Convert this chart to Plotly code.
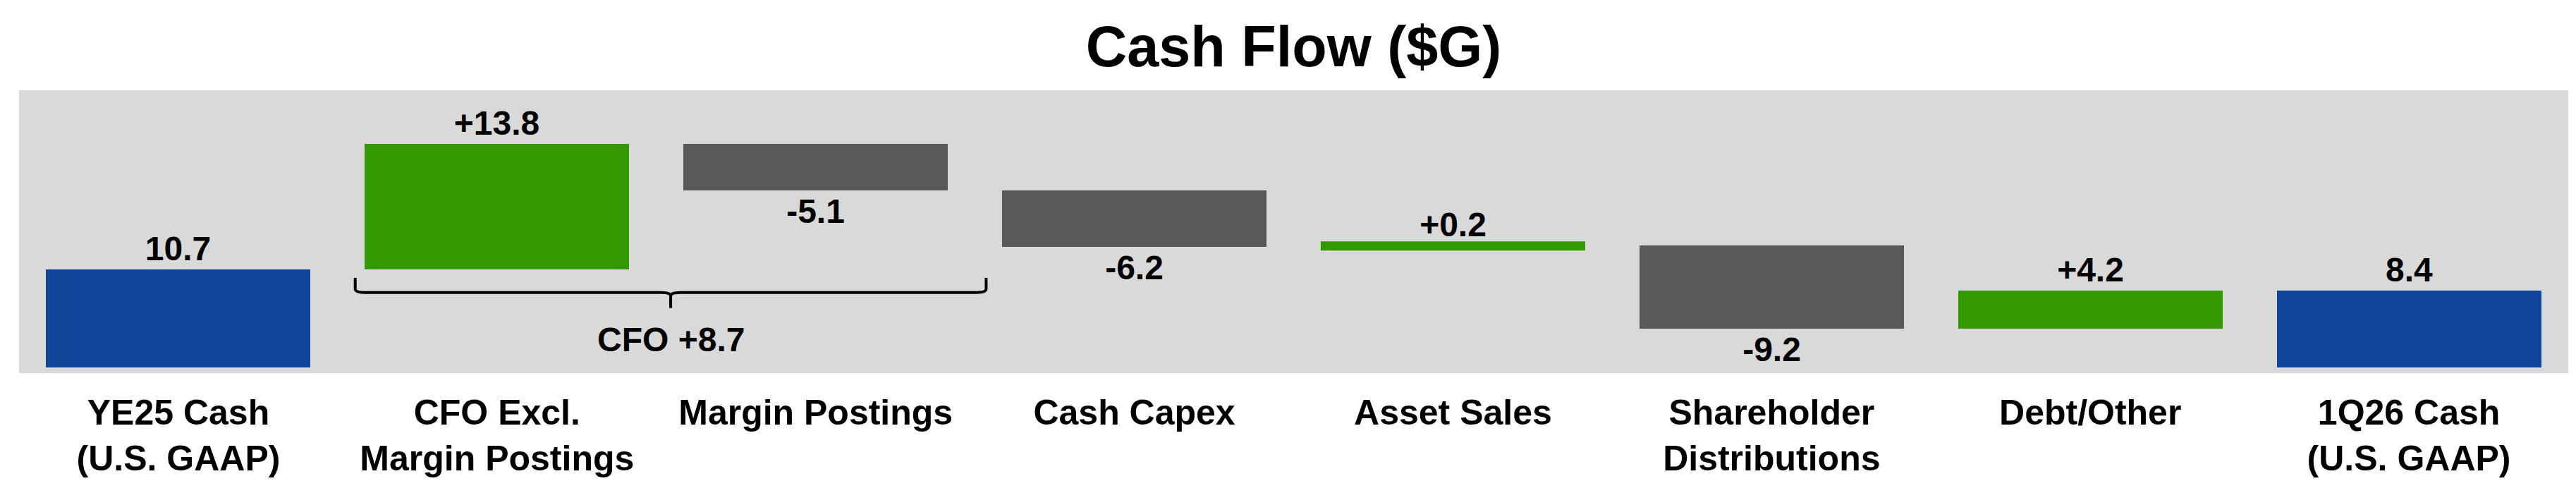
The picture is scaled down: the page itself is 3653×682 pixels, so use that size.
import plotly.graph_objects as go

# chart data ($G)
categories = [
    "YE25 Cash<br>(U.S. GAAP)",
    "CFO Excl.<br>Margin Postings",
    "Margin Postings",
    "Cash Capex",
    "Asset Sales",
    "Shareholder<br>Distributions",
    "Debt/Other",
    "1Q26 Cash<br>(U.S. GAAP)",
]
values = [10.7, 13.8, -5.1, -6.2, 0.2, -9.2, 4.2, 8.4]
measures = ["total", "relative", "relative", "relative", "relative", "relative", "relative", "total"]
cfo_items = [1, 2]  # the two bars under the brace

BLUE = "#0F4699"
GREEN = "#339900"
DARK = "#595959"
BG = "#D9D9D9"
FONT = "Liberation Sans, Arial, sans-serif"
BAR_WIDTH = 0.83

# build waterfall bases from the values
bases, colors, texts = [], [], []
running = 0
for v, m in zip(values, measures):
    if m == "total":
        bases.append(0)
        colors.append(BLUE)
        texts.append(f"{v:.1f}")
        running = v
    else:
        bases.append(running)
        colors.append(GREEN if v > 0 else DARK)
        texts.append(f"{v:+.1f}")
        running += v

x = list(range(len(categories)))

fig = go.Figure()
fig.add_trace(go.Bar(
    x=x,
    y=values,
    base=bases,
    width=BAR_WIDTH,
    marker=dict(color=colors, line=dict(width=0)),
    text=texts,
    textposition="outside",
    textfont=dict(family=FONT, size=48, color="black", weight="bold"),
    cliponaxis=False,
    showlegend=False,
))

# very thin bars are drawn as a thick stroke so they stay visible
for i, v in enumerate(values):
    if abs(v) < 0.5:
        yc = bases[i] + v / 2
        fig.add_trace(go.Scatter(
            x=[i - BAR_WIDTH / 2, i + BAR_WIDTH / 2],
            y=[yc, yc],
            mode="lines",
            line=dict(color=colors[i], width=13),
            hoverinfo="skip",
            showlegend=False,
        ))

# brace under the two CFO bars
left = cfo_items[0] - 0.445
right = cfo_items[-1] + 0.535
mid = (left + right) / 2
y_top, y_line, y_tip = 9.8, 8.2, 6.5
r = 0.03
path = (
    f"M {left},{y_top} L {left},{y_line + 0.4} Q {left},{y_line} {left + r},{y_line} "
    f"L {mid - r},{y_line} Q {mid},{y_line} {mid},{y_line - 0.4} L {mid},{y_tip} "
    f"M {mid},{y_line - 0.4} Q {mid},{y_line} {mid + r},{y_line} "
    f"L {right - r},{y_line} Q {right},{y_line} {right},{y_line + 0.4} L {right},{y_top}"
)
fig.add_shape(type="path", path=path, xref="x", yref="y",
              line=dict(color="black", width=4))

cfo_total = sum(values[i] for i in cfo_items)
fig.add_annotation(
    x=mid, y=3.0, xref="x", yref="y",
    text=f"CFO {cfo_total:+.1f}",
    showarrow=False,
    font=dict(family=FONT, size=48, color="black", weight="bold"),
)

fig.update_layout(
    width=3653,
    height=682,
    margin=dict(l=19, r=19, t=120, b=154),
    paper_bgcolor="white",
    plot_bgcolor=BG,
    font=dict(family=FONT, color="black", weight="bold"),
    title=dict(
        text="Cash Flow ($G)",
        x=0.5, xanchor="center",
        y=0.915, yref="container", yanchor="middle",
        font=dict(family=FONT, size=81, color="black", weight="bold"),
    ),
    bargap=0,
)
fig.update_xaxes(
    tickvals=x,
    ticktext=categories,
    range=[-0.5, len(categories) - 0.5],
    showgrid=False,
    zeroline=False,
    showline=False,
    ticks="",
    ticklabelstandoff=22,
    tickfont=dict(family=FONT, size=50, color="black", weight="bold"),
)
fig.update_yaxes(
    range=[-0.65, 30.4],
    showgrid=False,
    zeroline=False,
    showticklabels=False,
)

fig.write_html("out.html")
